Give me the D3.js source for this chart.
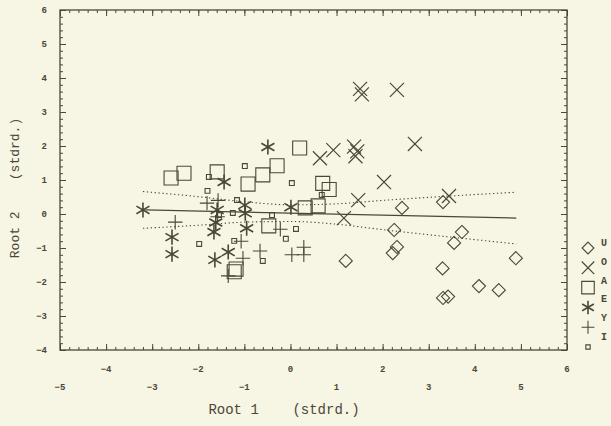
<!DOCTYPE html>
<html>
<head>
<meta charset="utf-8">
<script src="https://cdn.jsdelivr.net/npm/d3@7"></script>
<style>
  body { margin: 0; background: #f7f5e3; }
  svg { display: block; }
  text { font-family: "Liberation Mono", "DejaVu Sans Mono", monospace; fill: #4b4738; }
</style>
</head>
<body>
<svg width="611" height="426"></svg>
<script>
// group points [root1, root2]
const uPts = [[2.42,0.18],[2.25,-0.47],[2.31,-0.97],[2.22,-1.15],[1.2,-1.38],[3.31,0.35],[3.72,-0.53],
  [3.55,-0.85],[4.89,-1.3],[3.3,-1.6],[4.09,-2.12],[4.52,-2.24],[3.31,-2.47],[3.42,-2.43]];
const oPts = [[1.51,3.68],[1.55,3.52],[2.31,3.65],[2.7,2.06],[1.38,1.98],[1.45,1.84],[1.41,1.7],
  [0.93,1.88],[0.64,1.64],[2.03,0.94],[1.47,0.41],[3.44,0.53],[1.16,-0.12]];
const aPts = [[0.2,1.94],[-2.59,1.06],[-2.31,1.2],[-1.59,1.24],[-0.92,0.88],[-0.6,1.15],[-0.29,1.42],
  [0.7,0.9],[0.84,0.72],[0.32,0.18],[0.6,0.24],[-0.47,-0.35],[-1.18,-1.62],[-1.22,-1.7]];
const ePts = [[-0.49,1.97],[-1.44,0.94],[-3.2,0.12],[-1.59,0.12],[-1.62,-0.25],[-1.66,-0.53],[-0.99,0.26],
  [-0.98,0.02],[-0.95,-0.42],[0.01,0.2],[-2.57,-0.68],[-2.57,-1.18],[-1.64,-1.35],[-1.35,-1.12]];
const yPts = [[-1.57,0.4],[-1.81,0.32],[-2.5,-0.24],[-1.07,-0.8],[-0.66,-1.09],[-1.03,-1.3],[-1.35,-1.82],
  [-0.22,-0.45],[0.03,-1.2],[0.29,-0.98],[0.29,-1.2],[-1.58,-0.08]];
const iPts = [[-0.99,1.41],[0.03,0.91],[-1.8,0.68],[-1.77,1.09],[-1.16,0.41],[-1.98,-0.88],[-1.22,-0.79],
  [-0.4,-0.03],[0.12,-0.44],[-0.1,-0.73],[-0.6,-1.38],[0.68,0.56],[-1.55,-0.03],[-1.25,0.03]];

// fitted line and its dotted bands
const fitLine = [[-3.15,0.12],[4.9,-0.12]];
const upperBand = [[-3.2,0.66],[-2,0.51],[-1,0.36],[0,0.27],[1,0.3],[2,0.4],[3,0.49],[4.9,0.64]];
const lowerBand = [[-3.2,-0.42],[-2,-0.33],[-1,-0.24],[0,-0.22],[1,-0.3],[2,-0.46],[3,-0.61],[4.9,-0.88]];

const legendLabels = ["U", "O", "A", "E", "Y", "I"];
const xTicksTop = [-4, -2, 0, 2, 4, 6];
const xTicksBottom = [-5, -3, -1, 1, 3, 5];
const yTicks = [-4, -3, -2, -1, 0, 1, 2, 3, 4, 5, 6];

const ink = "#4b4738";
const svg = d3.select("svg");

const x = d3.scaleLinear().domain([-5, 6]).range([60, 567]);
const y = d3.scaleLinear().domain([-4, 6]).range([350, 10]);

const minorX = d3.range(-5, 6.001, 0.2);
const minorY = d3.range(-4, 6.001, 0.2);

// ticks on all four sides, pointing in
function ticks(axis, vals, len, tr) {
  const g = svg.append("g").attr("transform", tr)
    .call(axis.tickValues(vals).tickSize(len).tickFormat(""));
  g.select(".domain").remove();
  g.selectAll("line").attr("stroke", ink).attr("stroke-width", 1);
}
ticks(d3.axisBottom(x), minorX, -3, "translate(0,350)");
ticks(d3.axisBottom(x), d3.range(-5, 7), -6, "translate(0,350)");
ticks(d3.axisTop(x), minorX, -3, "translate(0,10)");
ticks(d3.axisTop(x), d3.range(-5, 7), -6, "translate(0,10)");
ticks(d3.axisLeft(y), minorY, -3, "translate(60,0)");
ticks(d3.axisLeft(y), yTicks, -6, "translate(60,0)");
ticks(d3.axisRight(y), minorY, -3, "translate(567,0)");
ticks(d3.axisRight(y), yTicks, -6, "translate(567,0)");

svg.append("rect")
  .attr("x", 60).attr("y", 10).attr("width", 507).attr("height", 340)
  .attr("fill", "none").attr("stroke", ink).attr("stroke-width", 1.3);

// tick labels
const lab = svg.append("g").style("font-size", "9px").style("font-weight", "bold");
lab.selectAll(".yl").data(yTicks).enter().append("text")
  .attr("x", 47).attr("y", d => y(d) + 3)
  .attr("text-anchor", "end").text(d => d < 0 ? "\u2212" + (-d) : d);
lab.selectAll(".xt").data(xTicksTop).enter().append("text")
  .attr("x", d => x(d)).attr("y", 372)
  .attr("text-anchor", "middle").text(d => d < 0 ? "\u2212" + (-d) : d);
lab.selectAll(".xb").data(xTicksBottom).enter().append("text")
  .attr("x", d => x(d)).attr("y", 390)
  .attr("text-anchor", "middle").text(d => d < 0 ? "\u2212" + (-d) : d);

// axis titles
svg.append("text")
  .attr("x", 284).attr("y", 414).attr("text-anchor", "middle")
  .style("font-size", "14px").style("white-space", "pre")
  .text("Root 1    (stdrd.)");
svg.append("text")
  .attr("transform", "translate(19,188) rotate(-90)").attr("text-anchor", "middle")
  .style("font-size", "13px").style("white-space", "pre")
  .text("Root 2    (stdrd.)");

// fit line and bands
const line = d3.line().x(d => x(d[0])).y(d => y(d[1]));
const curve = d3.line().x(d => x(d[0])).y(d => y(d[1])).curve(d3.curveMonotoneX);
svg.append("path").attr("d", line(fitLine))
  .attr("fill", "none").attr("stroke", ink).attr("stroke-width", 1.3);
[upperBand, lowerBand].forEach(b => {
  svg.append("path").attr("d", curve(b))
    .attr("fill", "none").attr("stroke", ink).attr("stroke-width", 1.1)
    .attr("stroke-dasharray", "1.3,2.6");
});

// symbols
const groups = [
  {pts: uPts, type: d3.symbolDiamond2, size: 110, w: 1.1},
  {pts: oPts, type: d3.symbolTimes, size: 130, w: 1.2},
  {pts: aPts, type: d3.symbolSquare2, size: 250, w: 1.1},
  {pts: ePts, type: d3.symbolAsterisk, size: 160, w: 1.6},
  {pts: yPts, type: d3.symbolPlus, size: 70, w: 1.1},
  {pts: iPts, type: d3.symbolSquare2, size: 30, w: 1.1}
];
groups.forEach(gr => {
  const sym = d3.symbol().type(gr.type).size(gr.size);
  svg.append("g").selectAll("path").data(gr.pts).enter().append("path")
    .attr("transform", d => "translate(" + x(d[0]) + "," + y(d[1]) + ")")
    .attr("d", sym)
    .attr("fill", "none").attr("stroke", ink).attr("stroke-width", gr.w);
});

// legend, cut off by the right edge
const leg = svg.append("g");
groups.forEach((gr, i) => {
  leg.append("path")
    .attr("transform", "translate(588," + (248 + i * 19.8) + ")")
    .attr("d", d3.symbol().type(gr.type).size(gr.size * 0.8))
    .attr("fill", "none").attr("stroke", ink).attr("stroke-width", gr.w);
  leg.append("text")
    .attr("x", 601).attr("y", 246 + i * 18.8)
    .style("font-size", "10px").style("font-weight", "bold")
    .text(legendLabels[i]);
});
</script>
</body>
</html>
